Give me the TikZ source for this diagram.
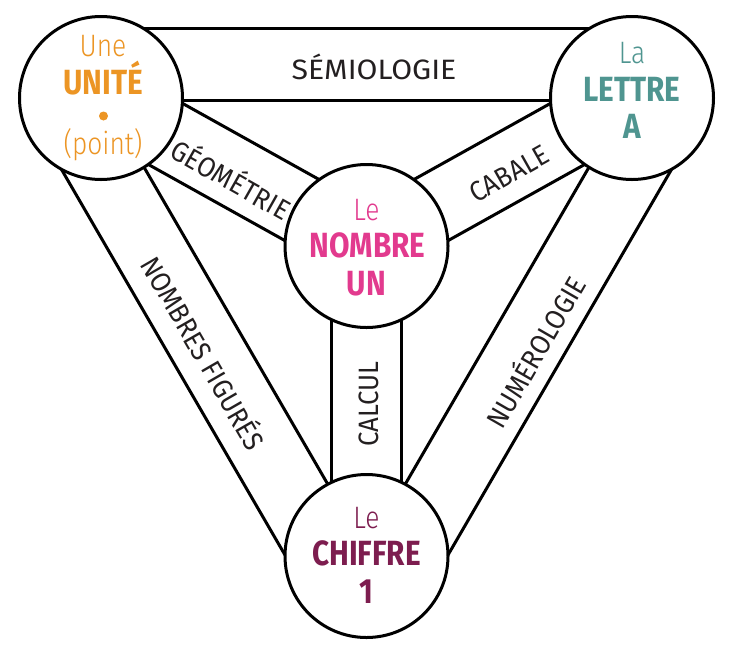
\documentclass[tikz,border=0pt]{standalone}
\usepackage{fontspec}
\usetikzlibrary{calc}
\setmainfont{Fira Sans}
\newfontfamily\condf{Fira Sans}[FakeStretch=0.85]
\newfontfamily\bandf{Fira Sans}[FakeStretch=0.92]
\newfontfamily\widef{Fira Sans}[FakeStretch=1.08]
\newfontfamily\lightf{Fira Sans Light}[FakeStretch=0.85]
\definecolor{corange}{HTML}{EC9524}
\definecolor{cteal}{HTML}{4F9590}
\definecolor{cpink}{HTML}{E23A8E}
\definecolor{cplum}{HTML}{7D1D4F}
\definecolor{ctext}{HTML}{231F20}
\newcommand{\bandlines}[4]{%
  \draw[bandline] ($(#1)!#3!90:(#2)$) -- ($(#2)!#3!-90:(#1)$);
  \draw[bandline] ($(#1)!#4!90:(#2)$) -- ($(#2)!#4!-90:(#1)$);}
\begin{document}
\begin{tikzpicture}[x=1pt,y=-1pt,
  bandline/.style={line width=3pt,black},
  disc/.style={circle,draw=black,fill=white,line width=3pt,minimum size=163pt,inner sep=0pt},
  thin/.style={font=\lightf\fontsize{31}{31}\selectfont,anchor=base,inner sep=0pt},
  heavy/.style={font=\condf\bfseries\fontsize{35}{35}\selectfont,anchor=base,inner sep=0pt},
  bandlabel/.style={font=\bandf\fontsize{28}{28}\selectfont,text=ctext,inner sep=0pt}]
\useasboundingbox (0,0) rectangle (733,665);
\coordinate (A) at (101,98);
\coordinate (B) at (632,98);
\coordinate (C) at (366.5,246);
\coordinate (D) at (366.5,556);
% outer bands
\bandlines{A}{B}{70pt}{-2.5pt}
\bandlines{B}{D}{70pt}{-2.5pt}
\bandlines{D}{A}{70pt}{-2.5pt}
% inner bands
\bandlines{A}{C}{35pt}{-35pt}
\bandlines{B}{C}{35pt}{-35pt}
\bandlines{C}{D}{35pt}{-35pt}
% discs
\node[disc] (ca) at (A) {};
\node[disc] (cb) at (B) {};
\node[disc] (cc) at (C) {};
\node[disc] (cd) at (D) {};
% disc texts
\node[thin,text=corange] (a1) at (103,56) {Une};
\node[heavy,text=corange] (a2) at (103,94) {UNITÉ};
\fill[corange] (103.5,116) circle (4.5pt);
\node[thin,text=corange] (a4) at (103,154) {(point)};
\node[thin,text=cteal] (b1) at (632,63) {La};
\node[heavy,text=cteal] (b2) at (632,101) {LETTRE};
\node[heavy,text=cteal] (b3) at (632,138) {A};
\node[thin,text=cpink] (c1) at (366.5,220) {Le};
\node[heavy,text=cpink] (c2) at (367.5,257) {NOMBRE};
\node[heavy,text=cpink] (c3) at (366.5,295) {UN};
\node[thin,text=cplum] (d1) at (366.5,528) {Le};
\node[heavy,text=cplum] (d2) at (366.5,565) {CHIFFRE};
\node[heavy,text=cplum] (d3) at (366.5,603) {1};
% band labels
\node[font=\widef\fontsize{28}{28}\selectfont,text=ctext,inner sep=0pt] (l1) at (374,67) {SÉMIOLOGIE};
\node[bandlabel,rotate=-29.5] (l2) at (232,178) {GÉOMÉTRIE};
\node[bandlabel,rotate=29.5] (l3) at (509,174) {CABALE};
\node[bandlabel,rotate=90] (l4) at (369,404) {CALCUL};
\node[bandlabel,rotate=-60] (l5) at (205,352) {NOMBRES FIGURÉS};
\node[bandlabel,rotate=60] (l6) at (534,351) {NUMÉROLOGIE};
\end{tikzpicture}
\end{document}
